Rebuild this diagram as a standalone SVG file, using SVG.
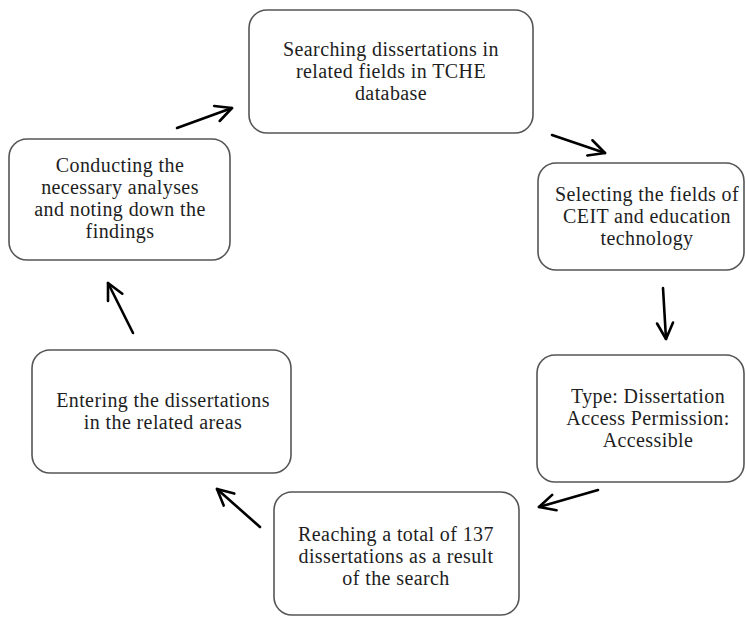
<svg xmlns="http://www.w3.org/2000/svg" width="746" height="617" viewBox="0 0 746 617">
<style>
.box{fill:#fff;stroke:#555;stroke-width:1.6}
.t{font-family:"Liberation Serif","Times New Roman",serif;font-size:20px;letter-spacing:0.4px;fill:#1e1e1e;text-anchor:middle}
.arr{fill:none;stroke:#000;stroke-width:2.6;stroke-linecap:round;marker-end:url(#ah)}
</style>
<defs>
<marker id="ah" markerUnits="userSpaceOnUse" markerWidth="30" markerHeight="30" refX="0" refY="0" viewBox="-20 -15 30 30" orient="auto" overflow="visible">
<path d="M-16,-8 L0,0 L-16,8" fill="none" stroke="#000" stroke-width="2.6" stroke-linecap="round" stroke-linejoin="round"/>
</marker>
</defs>
<rect width="746" height="617" fill="#fff"/>
<g id="node-search">
<rect class="box" x="249" y="10" width="284" height="123" rx="18"/>
<text class="t" x="391" y="56">Searching dissertations in</text>
<text class="t" x="391" y="78">related fields in TCHE</text>
<text class="t" x="391" y="100">database</text>
</g>
<g id="node-select">
<rect class="box" x="538" y="163" width="206" height="107" rx="18"/>
<text class="t" x="647" y="201">Selecting the fields of</text>
<text class="t" x="647" y="223">CEIT  and education</text>
<text class="t" x="647" y="245">technology</text>
</g>
<g id="node-type">
<rect class="box" x="537" y="355" width="207" height="127" rx="18"/>
<text class="t" x="648" y="403">Type: Dissertation</text>
<text class="t" x="648" y="425">Access Permission:</text>
<text class="t" x="648" y="447">Accessible</text>
</g>
<g id="node-reach">
<rect class="box" x="274" y="492" width="245" height="123" rx="18"/>
<text class="t" x="396" y="541">Reaching a total of 137</text>
<text class="t" x="396" y="563">dissertations as a result</text>
<text class="t" x="396" y="585">of the search</text>
</g>
<g id="node-enter">
<rect class="box" x="32" y="350" width="259" height="123" rx="18"/>
<text class="t" x="163" y="407">Entering the dissertations</text>
<text class="t" x="163" y="429">in the related areas</text>
</g>
<g id="node-conduct">
<rect class="box" x="9" y="139" width="221" height="121" rx="18"/>
<text class="t" x="120" y="172">Conducting the</text>
<text class="t" x="120" y="194">necessary analyses</text>
<text class="t" x="120" y="216">and noting down the</text>
<text class="t" x="120" y="238">findings</text>
</g>
<g id="connectors">
<path class="arr" d="M177,128 L232,108"/>
<path class="arr" d="M552,135 L605,153"/>
<path class="arr" d="M663,288 L666,339"/>
<path class="arr" d="M598,490 L539,507"/>
<path class="arr" d="M260,527 L217,489"/>
<path class="arr" d="M133,333 L108,283"/>
</g>
</svg>
